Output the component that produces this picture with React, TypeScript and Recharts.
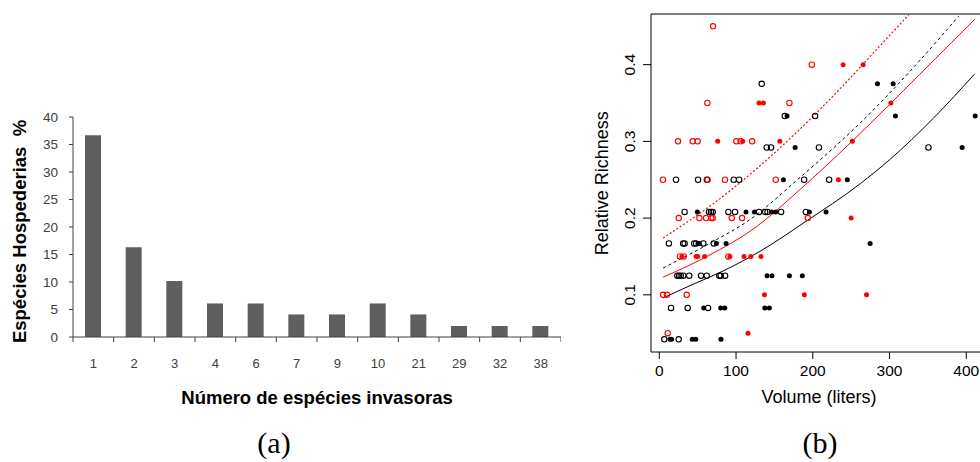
import {
  BarChart,
  Bar,
  XAxis,
  YAxis,
  Label,
  ComposedChart,
  Scatter,
  Line,
  ReferenceLine,
} from "recharts";

// ---- (a) bar chart ----
const invasiveCounts = ["1", "2", "3", "4", "6", "7", "9", "10", "21", "29", "32", "38"];
const hostPercent = [36.7, 16.3, 10.2, 6.1, 6.1, 4.1, 4.1, 6.1, 4.1, 2, 2, 2];
const percentTicks = [0, 5, 10, 15, 20, 25, 30, 35, 40];

// ---- (b) relative richness vs volume ----
// rows: [richness, volumes at that richness]
const blackOpenRows: [number, number[]][] = [
  [0.375, [133.5]],
  [0.333, [163.5, 203]],
  [0.292, [140, 145.6, 208, 350.7]],
  [0.25, [21.8, 50.5, 62, 97, 104, 188.7, 221.3]],
  [0.208, [33, 64.8, 67.4, 69.6, 90, 98.7, 130, 138, 141, 158.7, 191]],
  [0.167, [12.5, 31, 33, 45.5, 48, 57.4, 71]],
  [0.125, [23.5, 25.7, 27.9, 31.3, 39, 54.4, 61.8, 78.2, 80, 85.7]],
  [0.083, [15.3, 37, 63.5]],
  [0.042, [6.5, 25.3]],
];
const blackFilledRows: [number, number[]][] = [
  [0.375, [284.3, 304.7]],
  [0.333, [166.5, 307.7, 411.6]],
  [0.292, [177, 394.6]],
  [0.25, [161.7, 245]],
  [0.208, [49.6, 113, 124, 146.5, 151.7, 195.6, 217.3]],
  [0.167, [50.5, 52, 74.4, 87, 274.7]],
  [0.125, [140.4, 146.9, 169.5, 186.4]],
  [0.083, [57.9, 80, 85.3, 137.4, 143.4]],
  [0.042, [14, 16, 43, 47.5, 80.4]],
];
const redOpenRows: [number, number[]][] = [
  [0.45, [70]],
  [0.4, [198.7]],
  [0.35, [62.6, 169.5]],
  [0.3, [24.4, 43.5, 50, 100.4, 106, 121]],
  [0.25, [4.8, 63, 85.6, 151.7]],
  [0.2, [25.3, 52.2, 60.9, 67.8, 69.6, 94.4, 107.8, 193.5]],
  [0.15, [27, 31.8, 90]],
  [0.1, [5, 10, 35.7]],
  [0.05, [10.9]],
];
const redFilledRows: [number, number[]][] = [
  [0.4, [239.5, 265.6]],
  [0.35, [130, 135.6, 301.7]],
  [0.3, [76.1, 108.7, 157, 251.6]],
  [0.25, [233.4]],
  [0.2, [250]],
  [0.15, [29.5, 48, 50, 59, 92, 110.4, 119.3, 132.5]],
  [0.1, [137, 189, 270]],
  [0.05, [115.6]],
];

// fitted curves as [volume, richness]
const blackFit: [number, number][] = [
  [5, 0.096], [40, 0.112], [83, 0.131], [130, 0.156], [190, 0.195],
  [262, 0.245], [300, 0.276], [357, 0.33], [411, 0.388],
];
const blackFitUpper: [number, number][] = [
  [5, 0.135], [62, 0.165], [118, 0.198], [180, 0.25], [275, 0.337],
  [330, 0.395], [390, 0.463],
];
const redFit: [number, number][] = [
  [5, 0.123], [62, 0.15], [127, 0.189], [183, 0.237], [249, 0.298],
  [301, 0.349], [344, 0.392], [411, 0.459],
];
const redFitUpper: [number, number][] = [
  [5, 0.174], [94, 0.237], [131, 0.268], [236, 0.369], [275, 0.411], [325, 0.465],
];

const volumeTicks = [0, 100, 200, 300, 400];
const richnessTicks = [0.1, 0.2, 0.3, 0.4];

const SANS = "Liberation Sans, Arial, sans-serif";
const AXIS_GRAY = "#404040";

const barData = invasiveCounts.map((name, i) => ({ name, value: hostPercent[i] }));
const toPoints = (rows: [number, number[]][]) =>
  rows.flatMap(([y, xs]) => xs.map((x) => ({ x, y })));
const toLine = (pts: [number, number][]) => pts.map(([x, y]) => ({ x, y }));

// panel (a) geometry
const A_LEFT = 73;
const A_RIGHT = 561;
const BAND = (A_RIGHT - A_LEFT) / invasiveCounts.length;
const X_TICK_OFFSET = 22; // tickSize + tickMargin

function CountTick(props: any) {
  const { x, y, payload, index } = props;
  const axisY = y - X_TICK_OFFSET;
  const half = BAND / 2;
  return (
    <g>
      <line x1={x - half} x2={x - half} y1={axisY} y2={axisY + 5} stroke={AXIS_GRAY} />
      {index === invasiveCounts.length - 1 && (
        <line x1={x + half} x2={x + half} y1={axisY} y2={axisY + 5} stroke={AXIS_GRAY} />
      )}
      <text x={x} y={y} dy="0.71em" textAnchor="middle" fontSize={13} fill={AXIS_GRAY} fontFamily={SANS}>
        {payload.value}
      </text>
    </g>
  );
}

function RichnessTick(props: any) {
  const { x, y, payload } = props;
  return (
    <text
      transform={`translate(${x - 13.3},${y}) rotate(-90)`}
      textAnchor="middle"
      dy="0.35em"
      fontSize={15.5}
      fill="#000"
      fontFamily={SANS}
    >
      {Number(payload.value).toFixed(1)}
    </text>
  );
}

const ring = (color: string) => (p: any) => (
  <circle cx={p.cx} cy={p.cy} r={2.7} fill="none" stroke={color} strokeWidth={1.1} />
);
const dot = (color: string) => (p: any) => <circle cx={p.cx} cy={p.cy} r={2.5} fill={color} />;

function BarPanel() {
  return (
    <BarChart width={A_RIGHT} height={420} data={barData} margin={{ top: 117, right: 0, bottom: 0, left: 0 }}>
      <XAxis
        dataKey="name"
        interval={0}
        height={83}
        tickLine={false}
        tickSize={4}
        tickMargin={18}
        axisLine={{ stroke: AXIS_GRAY }}
        tick={(p: any) => <CountTick {...p} />}
      >
        <Label
          content={() => (
            <text x={317} y={404.3} textAnchor="middle" fontSize={18.5} fontWeight="bold" fill="#000" fontFamily={SANS}>
              Número de espécies invasoras
            </text>
          )}
        />
      </XAxis>
      <YAxis
        width={A_LEFT}
        domain={[0, 40]}
        ticks={percentTicks}
        tickSize={4}
        tickMargin={11}
        axisLine={{ stroke: AXIS_GRAY }}
        tickLine={{ stroke: AXIS_GRAY }}
        tick={{ fontSize: 13.5, fill: AXIS_GRAY, fontFamily: SANS }}
      >
        <Label
          content={() => (
            <text
              transform="translate(19.5,231.5) rotate(-90)"
              textAnchor="middle"
              dy="0.35em"
              fontSize={18.5}
              fontWeight="bold"
              fill="#000"
              fontFamily={SANS}
            >
              {"Espécies Hospederias\u00a0\u00a0%"}
            </text>
          )}
        />
      </YAxis>
      <Bar dataKey="value" fill="#5f5f5f" barSize={16} isAnimationActive={false} />
    </BarChart>
  );
}

const Y_MIN = 0.0255;
const Y_MAX = 0.466;

function ScatterPanel() {
  return (
    <ComposedChart width={427} height={410} margin={{ top: 14, right: 0, bottom: 0, left: 0 }}>
      <XAxis
        type="number"
        dataKey="x"
        domain={[-10.8, 427]}
        allowDataOverflow
        ticks={volumeTicks}
        height={58}
        tickSize={7}
        tickMargin={6}
        axisLine={{ stroke: "#000" }}
        tickLine={{ stroke: "#000" }}
        tick={{ fontSize: 15.5, fill: "#000", fontFamily: SANS }}
      >
        <Label value="Volume (liters)" position="insideBottom" offset={7} fontSize={18} fill="#000" fontFamily={SANS} />
      </XAxis>
      <YAxis
        type="number"
        dataKey="y"
        domain={[Y_MIN, Y_MAX]}
        allowDataOverflow
        ticks={richnessTicks}
        width={91}
        tickSize={8}
        tickMargin={0}
        axisLine={{ stroke: "#000" }}
        tickLine={{ stroke: "#000" }}
        tick={(p: any) => <RichnessTick {...p} />}
      >
        <Label
          content={() => (
            <text
              transform="translate(41.5,183.2) rotate(-90)"
              textAnchor="middle"
              dy="0.35em"
              fontSize={18}
              fill="#000"
              fontFamily={SANS}
            >
              Relative Richness
            </text>
          )}
        />
      </YAxis>
      <ReferenceLine y={Y_MAX} stroke="#000" ifOverflow="visible" />
      <Scatter data={toPoints(blackOpenRows)} shape={ring("#000")} isAnimationActive={false} />
      <Scatter data={toPoints(blackFilledRows)} shape={dot("#000")} isAnimationActive={false} />
      <Scatter data={toPoints(redOpenRows)} shape={ring("#ff0000")} isAnimationActive={false} />
      <Scatter data={toPoints(redFilledRows)} shape={dot("#ff0000")} isAnimationActive={false} />
      <Line data={toLine(blackFit)} dataKey="y" type="monotone" stroke="#000" strokeWidth={1} dot={false} isAnimationActive={false} />
      <Line data={toLine(blackFitUpper)} dataKey="y" type="monotone" stroke="#000" strokeWidth={1} strokeDasharray="3 3" dot={false} isAnimationActive={false} />
      <Line data={toLine(redFit)} dataKey="y" type="monotone" stroke="#ff0000" strokeWidth={1} dot={false} isAnimationActive={false} />
      <Line data={toLine(redFitUpper)} dataKey="y" type="monotone" stroke="#ff0000" strokeWidth={1.2} strokeDasharray="2 2" dot={false} isAnimationActive={false} />
    </ComposedChart>
  );
}

const captionStyle = (center: number): React.CSSProperties => ({
  position: "absolute",
  left: center - 40,
  top: 426,
  width: 80,
  textAlign: "center",
  fontFamily: "Liberation Serif, Times New Roman, serif",
  fontSize: 30,
  lineHeight: "34px",
  color: "#000",
});

export default function App() {
  return (
    <div
      style={{
        position: "absolute",
        left: 0,
        top: 0,
        width: 980,
        height: 462,
        overflow: "hidden",
        background: "#fff",
      }}
    >
      <div style={{ position: "absolute", left: 0, top: 0 }}>
        <BarPanel />
      </div>
      <div style={{ position: "absolute", left: 560, top: 0 }}>
        <ScatterPanel />
      </div>
      <div style={captionStyle(274)}>(a)</div>
      <div style={captionStyle(820)}>(b)</div>
    </div>
  );
}
